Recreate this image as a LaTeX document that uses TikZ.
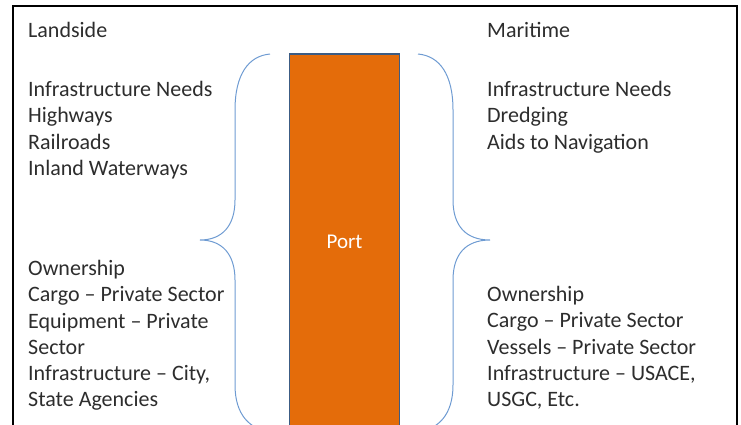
\documentclass[tikz,border=0pt]{standalone}
\usepackage{fontspec}
\setmainfont{Carlito}
\definecolor{portorange}{RGB}{228,108,10}
\definecolor{portedge}{RGB}{60,92,132}
\definecolor{bracecol}{RGB}{110,155,210}
\definecolor{txtgrey}{RGB}{45,45,45}
\begin{document}
\begin{tikzpicture}[x=1pt, y=-1pt,
        txt/.style={anchor=north west, inner sep=0pt, align=left, text=txtgrey, font=\fontsize{22}{26.3}\selectfont},
        brace/.style={draw=bracecol, line width=1pt}
    ]
        \useasboundingbox (0,0) rectangle (741,424);

        % Outer frame
        \draw[line width=2pt] (13,6) rectangle (737,460);

        % Port block
        \node[draw=portedge, line width=1.5pt, fill=portorange, text=white,
              minimum width=110pt, minimum height=376pt, inner sep=0pt,
              font=\fontsize{21}{25}\selectfont] (port) at (344.5,242) {Port};

        % Landside column
        \node[txt] (landside) at (28,22) {Landside};
        \node[txt] (landNeeds) at (28,81) {Infrastructure Needs\\Highways\\Railroads\\Inland Waterways};
        \node[txt] (landOwners) at (28,260) {Ownership\\Cargo -- Private Sector\\Equipment -- Private\\Sector\\Infrastructure -- City,\\State Agencies};

        % Maritime column
        \node[txt] (maritime) at (487,22) {Maritime};
        \node[txt] (seaNeeds) at (487,81) {Infrastructure Needs\\Dredging\\Aids to Navigation};
        \node[txt] (seaOwners) at (487,286) {Ownership\\Cargo -- Private Sector\\Vessels -- Private Sector\\Infrastructure -- USACE,\\USGC, Etc.};

        % Curly braces around the port
        \draw[brace] (270,54) .. controls (248,56) and (235,75) .. (235,110) -- (235,200)
            .. controls (235,226) and (222,240) .. (200,240)
            .. controls (222,240) and (235,254) .. (235,280) -- (235,385)
            .. controls (235,415) and (250,430) .. (272,432);
        \draw[brace] (418,54) .. controls (440,56) and (453,75) .. (453,110) -- (453,200)
            .. controls (453,226) and (466,240) .. (490,240)
            .. controls (466,240) and (453,254) .. (453,280) -- (453,385)
            .. controls (453,415) and (438,430) .. (416,432);
    \end{tikzpicture}
\end{document}
